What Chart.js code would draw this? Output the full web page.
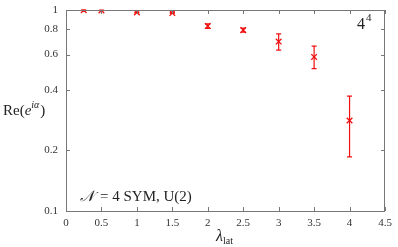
<!DOCTYPE html>
<html>
<head>
<meta charset="utf-8">
<script src="https://cdn.jsdelivr.net/npm/chart.js@4/dist/chart.umd.min.js"></script>
<style>
  html, body { margin: 0; padding: 0; background: #fff; }
  #wrap { width: 398px; height: 247px; }
</style>
</head>
<body>
<div id="wrap"><canvas id="chart" width="398" height="247"></canvas></div>
<script>
// lambda_lat values and Re(e^{i alpha}) with error bars
const lambdas = [0.25, 0.5, 1, 1.5, 2, 2.5, 3, 3.5, 4];
const reVals  = [0.998, 0.995, 0.972, 0.966, 0.832, 0.794, 0.697, 0.584, 0.282];
const errLo   = [0.003, 0.003, 0.004, 0.004, 0.022, 0.018, 0.066, 0.073, 0.096];
const errHi   = [0.003, 0.003, 0.004, 0.004, 0.022, 0.018, 0.064, 0.077, 0.091];
const xTicks = [0, 0.5, 1, 1.5, 2, 2.5, 3, 3.5, 4, 4.5];
const yTicks = [0.1, 0.2, 0.4, 0.6, 0.8, 1];

const serif = '"Liberation Serif", "DejaVu Serif", serif';
const red = '#f01010';
const frame = '#777';

const errorBars = {
  id: 'errorBars',
  afterDatasetsDraw(chart) {
    const { ctx, scales: { x, y } } = chart;
    ctx.save();
    ctx.strokeStyle = red;
    ctx.lineWidth = 1.2;
    lambdas.forEach((l, i) => {
      const px = x.getPixelForValue(l);
      const top = y.getPixelForValue(reVals[i] + errHi[i]);
      const bot = y.getPixelForValue(reVals[i] - errLo[i]);
      ctx.beginPath();
      ctx.moveTo(px, top); ctx.lineTo(px, bot);
      ctx.moveTo(px - 2.5, top); ctx.lineTo(px + 2.5, top);
      ctx.moveTo(px - 2.5, bot); ctx.lineTo(px + 2.5, bot);
      ctx.stroke();
    });
    ctx.restore();
  }
};

const frameAndText = {
  id: 'frameAndText',
  afterDraw(chart) {
    const { ctx, chartArea: a, scales: { x, y } } = chart;
    ctx.save();
    ctx.strokeStyle = frame;
    ctx.lineWidth = 1;
    ctx.strokeRect(a.left + 0.5, a.top + 0.5, a.right - a.left - 1, a.bottom - a.top);
    ctx.beginPath();
    xTicks.forEach(v => {
      const px = Math.round(x.getPixelForValue(v)) + 0.5;
      ctx.moveTo(px, a.bottom); ctx.lineTo(px, a.bottom - 4);
      ctx.moveTo(px, a.top); ctx.lineTo(px, a.top + 4);
    });
    yTicks.forEach(v => {
      const py = Math.round(y.getPixelForValue(v)) + 0.5;
      ctx.moveTo(a.left, py); ctx.lineTo(a.left + 4, py);
      ctx.moveTo(a.right, py); ctx.lineTo(a.right - 4, py);
    });
    ctx.stroke();

    ctx.fillStyle = '#222';
    ctx.textBaseline = 'alphabetic';
    // 4^4
    ctx.font = '16px ' + serif;
    ctx.fillText('4', 357, 29);
    ctx.font = '11px ' + serif;
    ctx.fillText('4', 366, 21);
    // N = 4 SYM, U(2)
    ctx.font = 'italic 15px ' + serif;
    ctx.fillText('\u{1D4A9}', 80, 201);
    ctx.font = '15px ' + serif;
    ctx.fillText('= 4 SYM, U(2)', 100, 201);
    // y label
    ctx.font = '15px ' + serif;
    ctx.fillText('Re(', 3, 115);
    let w = ctx.measureText('Re(').width;
    ctx.font = 'italic 15px ' + serif;
    ctx.fillText('e', 3 + w, 115);
    w += ctx.measureText('e').width;
    ctx.font = 'italic 10px ' + serif;
    ctx.fillText('i\u03B1', 3 + w, 108);
    w += ctx.measureText('i\u03B1').width + 1;
    ctx.font = '15px ' + serif;
    ctx.fillText(')', 3 + w, 115);
    // x label
    ctx.font = 'italic 16px ' + serif;
    ctx.fillText('\u03BB', 216, 241);
    const lw = ctx.measureText('\u03BB').width;
    ctx.font = '10px ' + serif;
    ctx.fillText('lat', 216 + lw, 244);
    ctx.restore();
  }
};

new Chart(document.getElementById('chart'), {
  type: 'scatter',
  data: {
    datasets: [{
      data: lambdas.map((l, i) => ({ x: l, y: reVals[i] })),
      pointStyle: 'crossRot',
      pointRadius: 4,
      pointBorderWidth: 1.3,
      borderColor: red,
      backgroundColor: red
    }]
  },
  options: {
    responsive: false,
    animation: false,
    layout: { padding: { left: 0, right: 13, top: 10, bottom: 0 } },
    plugins: { legend: { display: false }, tooltip: { enabled: false } },
    scales: {
      x: {
        type: 'linear', min: 0, max: 4.5,
        afterBuildTicks: s => { s.ticks = xTicks.map(v => ({ value: v })); },
        afterFit: s => { s.height = 36; s.paddingLeft = 0; s.paddingRight = 0; },
        grid: { display: false, drawTicks: false },
        border: { display: false },
        ticks: { color: '#333', font: { family: serif, size: 11 }, padding: 6, maxRotation: 0,
                 callback: v => String(v) }
      },
      y: {
        type: 'logarithmic', min: 0.1, max: 1,
        afterBuildTicks: s => { s.ticks = yTicks.map(v => ({ value: v })); },
        afterFit: s => { s.width = 66; s.paddingTop = 0; s.paddingBottom = 0; },
        grid: { display: false, drawTicks: false },
        border: { display: false },
        ticks: { color: '#333', font: { family: serif, size: 11 }, padding: 8,
                 callback: v => String(v) }
      }
    }
  },
  plugins: [errorBars, frameAndText]
});
</script>
</body>
</html>
